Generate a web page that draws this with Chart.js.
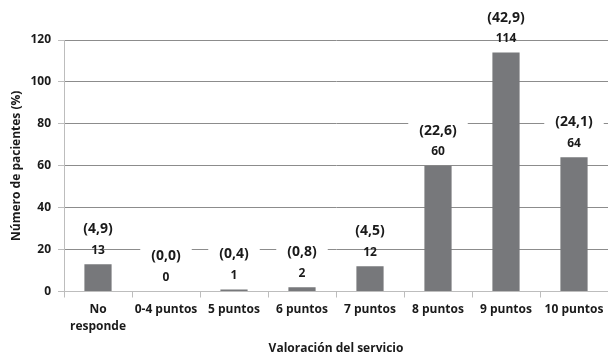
<!DOCTYPE html>
<html>
<head>
<meta charset="utf-8">
<script src="https://cdn.jsdelivr.net/npm/chart.js@4/dist/chart.umd.min.js"></script>
<style>
  html, body { margin: 0; padding: 0; background: #fff; }
  #wrap { width: 608px; height: 356px; }
</style>
</head>
<body>
<div id="wrap"><canvas id="c" width="608" height="356"></canvas></div>
<script>
// Rating categories and patient counts
const categories = [['No', 'responde'], '0-4 puntos', '5 puntos', '6 puntos', '7 puntos', '8 puntos', '9 puntos', '10 puntos'];
const patients = [13, 0, 1, 2, 12, 60, 114, 64];
const percentages = [4.9, 0.0, 0.4, 0.8, 4.5, 22.6, 42.9, 24.1];
const yTicks = [0, 20, 40, 60, 80, 100, 120];

const FONT = '"Open Sans", Lato, sans-serif';
const TEXT = '#1a1a1a';

const fmtPct = v => '(' + v.toFixed(1).replace('.', ',') + ')';

// Count and percentage labels above each bar; percentage labels sit on a white box
const barLabels = {
  id: 'barLabels',
  beforeDatasetsDraw(chart) {
    const ctx = chart.ctx;
    const meta = chart.getDatasetMeta(0);
    ctx.save();
    ctx.font = 'bold 14px ' + FONT;
    meta.data.forEach((bar, i) => {
      const txt = fmtPct(percentages[i]);
      const w = ctx.measureText(txt).width;
      const y = bar.y - 14 - 21;
      ctx.fillStyle = '#ffffff';
      ctx.fillRect(bar.x - w / 2 - 11, y - 9, w + 22, 18);
    });
    ctx.restore();
  },
  afterDatasetsDraw(chart) {
    const ctx = chart.ctx;
    const meta = chart.getDatasetMeta(0);
    ctx.save();
    ctx.textAlign = 'center';
    ctx.textBaseline = 'middle';
    ctx.fillStyle = TEXT;
    meta.data.forEach((bar, i) => {
      ctx.font = 'bold 12px ' + FONT;
      ctx.fillText(String(patients[i]), bar.x, bar.y - 14);
      ctx.font = 'bold 14px ' + FONT;
      ctx.fillText(fmtPct(percentages[i]), bar.x, bar.y - 14 - 21);
    });
    ctx.restore();
  }
};

new Chart(document.getElementById('c'), {
  type: 'bar',
  data: {
    labels: categories,
    datasets: [{
      data: patients,
      backgroundColor: '#77787b',
      borderWidth: 0,
      barPercentage: 0.4,
      categoryPercentage: 1.0
    }]
  },
  options: {
    responsive: false,
    animation: false,
    events: [],
    layout: { padding: { top: 40, right: 0, left: 0, bottom: 0 } },
    plugins: {
      legend: { display: false },
      tooltip: { enabled: false }
    },
    scales: {
      x: {
        grid: {
          offset: true,
          drawOnChartArea: false,
          drawTicks: true,
          tickLength: 6,
          color: '#bdbdbd'
        },
        border: { color: '#bdbdbd', width: 1 },
        ticks: {
          color: TEXT,
          font: { family: FONT, size: 12, weight: 'bold', lineHeight: 1.4 },
          padding: 4,
          maxRotation: 0,
          autoSkip: false
        },
        title: {
          display: true,
          text: 'Valoración del servicio',
          color: TEXT,
          font: { family: FONT, size: 12, weight: 'bold', lineHeight: 1 },
          padding: { top: 0, bottom: 1 }
        },
        afterFit(scale) { scale.height = 64.5; }
      },
      y: {
        min: 0,
        max: 120,
        afterBuildTicks(scale) { scale.ticks = yTicks.map(v => ({ value: v })); },
        grid: {
          color: '#8c8c8c',
          drawTicks: true,
          tickLength: 6,
          tickColor: '#bdbdbd'
        },
        border: { color: '#bdbdbd', width: 1 },
        ticks: {
          color: TEXT,
          font: { family: FONT, size: 12, weight: 'bold' },
          padding: 7
        },
        title: {
          display: true,
          text: 'Número de pacientes (%)',
          color: TEXT,
          font: { family: FONT, size: 12, weight: 'bold', lineHeight: 1 },
          padding: { top: 11, bottom: 0 }
        },
        afterFit(scale) { scale.width = 64; }
      }
    }
  },
  plugins: [barLabels]
});
</script>
</body>
</html>
